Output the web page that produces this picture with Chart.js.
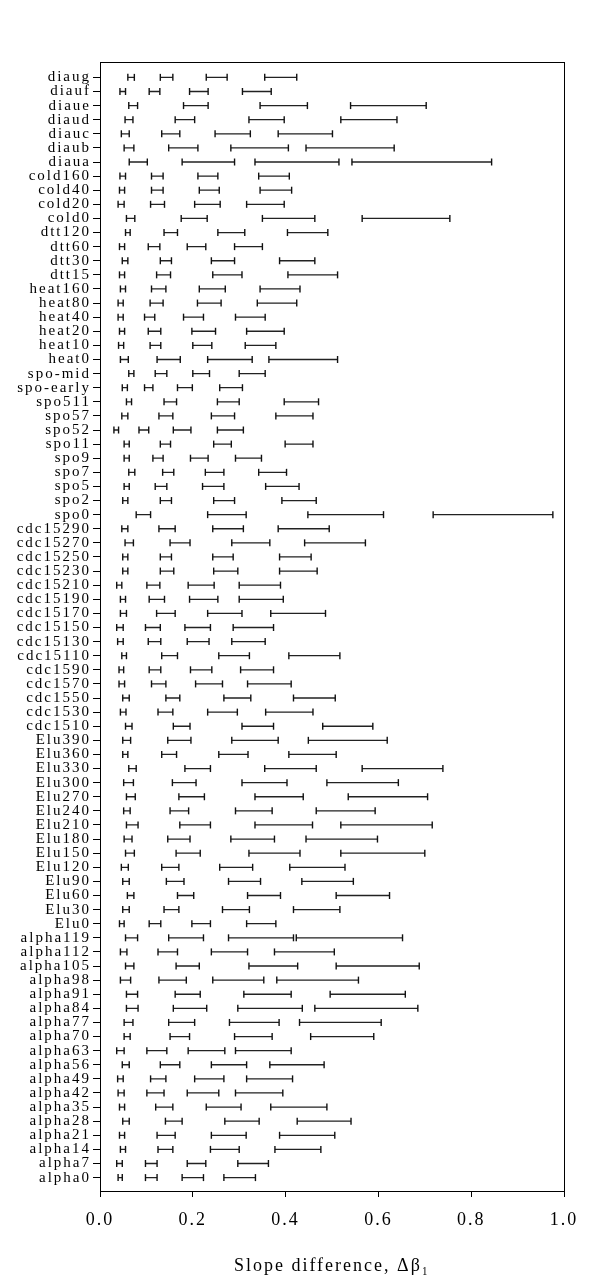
<!DOCTYPE html>
<html>
<head>
<meta charset="utf-8">
<script src="https://cdn.jsdelivr.net/npm/chart.js@4"></script>
<style>
  html, body { margin: 0; padding: 0; background: #fff; }
  canvas { display: block; }
</style>
</head>
<body>
<canvas id="slope-chart" width="600" height="1286"></canvas>
<script>
const labels = [
  "diaug", "diauf", "diaue", "diaud", "diauc", "diaub", "diaua",
  "cold160", "cold40", "cold20", "cold0",
  "dtt120", "dtt60", "dtt30", "dtt15",
  "heat160", "heat80", "heat40", "heat20", "heat10", "heat0",
  "spo-mid", "spo-early", "spo511", "spo57", "spo52", "spo11", "spo9", "spo7", "spo5", "spo2", "spo0",
  "cdc15290", "cdc15270", "cdc15250", "cdc15230", "cdc15210", "cdc15190", "cdc15170", "cdc15150",
  "cdc15130", "cdc15110", "cdc1590", "cdc1570", "cdc1550", "cdc1530", "cdc1510",
  "Elu390", "Elu360", "Elu330", "Elu300", "Elu270", "Elu240", "Elu210", "Elu180", "Elu150",
  "Elu120", "Elu90", "Elu60", "Elu30", "Elu0",
  "alpha119", "alpha112", "alpha105", "alpha98", "alpha91", "alpha84", "alpha77", "alpha70", "alpha63",
  "alpha56", "alpha49", "alpha42", "alpha35", "alpha28", "alpha21", "alpha14", "alpha7", "alpha0",
];

// [low, high] per row, same order as labels
const band1 = [
  [0.060, 0.074], [0.043, 0.055], [0.062, 0.081], [0.054, 0.071], [0.046, 0.063], [0.052, 0.073], [0.063, 0.102],
  [0.043, 0.055], [0.042, 0.053], [0.039, 0.052], [0.057, 0.075],
  [0.055, 0.065], [0.042, 0.053], [0.048, 0.060], [0.042, 0.053],
  [0.044, 0.055], [0.039, 0.050], [0.039, 0.050], [0.042, 0.053], [0.040, 0.051], [0.044, 0.061],
  [0.062, 0.073], [0.048, 0.059], [0.057, 0.068], [0.047, 0.060], [0.030, 0.040], [0.052, 0.063],
  [0.052, 0.063], [0.062, 0.075], [0.052, 0.063], [0.049, 0.060], [0.078, 0.109],
  [0.047, 0.060], [0.054, 0.072], [0.049, 0.060], [0.049, 0.060], [0.036, 0.047], [0.044, 0.055],
  [0.044, 0.057], [0.036, 0.050], [0.038, 0.050], [0.047, 0.057], [0.041, 0.051], [0.041, 0.053],
  [0.049, 0.063], [0.044, 0.056], [0.055, 0.069],
  [0.049, 0.066], [0.049, 0.060], [0.062, 0.078], [0.051, 0.072], [0.057, 0.076], [0.051, 0.065],
  [0.057, 0.082], [0.052, 0.069], [0.055, 0.074], [0.046, 0.061], [0.049, 0.063], [0.059, 0.073],
  [0.049, 0.063], [0.042, 0.052],
  [0.055, 0.081], [0.044, 0.058], [0.055, 0.073], [0.044, 0.066], [0.057, 0.081], [0.057, 0.082],
  [0.052, 0.071], [0.052, 0.065], [0.036, 0.052], [0.048, 0.063], [0.038, 0.050], [0.039, 0.052],
  [0.042, 0.053], [0.049, 0.063], [0.042, 0.053], [0.044, 0.055], [0.036, 0.048], [0.039, 0.048],
];

const band2 = [
  [0.130, 0.157], [0.106, 0.129], [0.180, 0.233], [0.162, 0.204], [0.133, 0.172], [0.148, 0.211], [0.177, 0.290],
  [0.111, 0.136], [0.111, 0.136], [0.109, 0.139], [0.175, 0.231],
  [0.138, 0.167], [0.104, 0.129], [0.130, 0.154], [0.122, 0.152],
  [0.111, 0.142], [0.108, 0.136], [0.096, 0.118], [0.104, 0.131], [0.108, 0.131], [0.123, 0.173],
  [0.119, 0.144], [0.096, 0.114], [0.138, 0.165], [0.127, 0.157], [0.084, 0.105], [0.130, 0.152],
  [0.114, 0.136], [0.135, 0.159], [0.119, 0.144], [0.130, 0.154], [0.232, 0.315],
  [0.127, 0.162], [0.151, 0.194], [0.130, 0.154], [0.130, 0.159], [0.101, 0.129], [0.106, 0.139],
  [0.122, 0.162], [0.098, 0.130], [0.104, 0.131], [0.133, 0.167], [0.106, 0.131], [0.111, 0.142],
  [0.142, 0.172], [0.125, 0.157], [0.158, 0.194],
  [0.146, 0.196], [0.133, 0.165], [0.183, 0.238], [0.156, 0.207], [0.170, 0.225], [0.151, 0.191],
  [0.172, 0.238], [0.146, 0.194], [0.164, 0.216], [0.133, 0.170], [0.143, 0.181], [0.167, 0.202],
  [0.138, 0.170], [0.106, 0.131],
  [0.148, 0.223], [0.125, 0.167], [0.164, 0.214], [0.127, 0.186], [0.162, 0.216], [0.158, 0.230],
  [0.148, 0.204], [0.151, 0.193], [0.101, 0.144], [0.130, 0.172], [0.109, 0.142], [0.101, 0.138],
  [0.120, 0.157], [0.141, 0.177], [0.123, 0.162], [0.125, 0.157], [0.098, 0.123], [0.098, 0.123],
];

const band3 = [
  [0.229, 0.274], [0.193, 0.233], [0.345, 0.447], [0.321, 0.397], [0.248, 0.324], [0.282, 0.406], [0.334, 0.515],
  [0.211, 0.254], [0.214, 0.257], [0.204, 0.259], [0.350, 0.463],
  [0.254, 0.312], [0.188, 0.228], [0.240, 0.290], [0.243, 0.306],
  [0.214, 0.270], [0.210, 0.261], [0.180, 0.223], [0.198, 0.249], [0.200, 0.241], [0.232, 0.328],
  [0.200, 0.236], [0.167, 0.199], [0.253, 0.300], [0.240, 0.290], [0.158, 0.196], [0.245, 0.283],
  [0.195, 0.233], [0.227, 0.267], [0.221, 0.267], [0.245, 0.290], [0.448, 0.611],
  [0.243, 0.309], [0.284, 0.366], [0.243, 0.287], [0.245, 0.297], [0.190, 0.246], [0.193, 0.254],
  [0.232, 0.306], [0.183, 0.238], [0.188, 0.235], [0.256, 0.322], [0.195, 0.241], [0.206, 0.264],
  [0.267, 0.325], [0.232, 0.296], [0.306, 0.374],
  [0.284, 0.384], [0.256, 0.319], [0.355, 0.466], [0.306, 0.403], [0.334, 0.438], [0.292, 0.371],
  [0.334, 0.458], [0.282, 0.376], [0.321, 0.431], [0.258, 0.329], [0.277, 0.346], [0.318, 0.389],
  [0.264, 0.322], [0.198, 0.238],
  [0.277, 0.417], [0.240, 0.318], [0.321, 0.426], [0.243, 0.353], [0.310, 0.412], [0.297, 0.436],
  [0.279, 0.386], [0.290, 0.371], [0.190, 0.269], [0.240, 0.316], [0.204, 0.267], [0.188, 0.256],
  [0.229, 0.304], [0.269, 0.343], [0.240, 0.315], [0.238, 0.300], [0.188, 0.228], [0.177, 0.223],
];

const band4 = [
  [0.355, 0.424], [0.307, 0.369], [0.540, 0.703], [0.519, 0.640], [0.384, 0.501], [0.444, 0.634], [0.543, 0.844],
  [0.342, 0.408], [0.345, 0.413], [0.316, 0.397], [0.565, 0.754],
  [0.404, 0.491], [0.290, 0.350], [0.387, 0.463], [0.405, 0.512],
  [0.345, 0.431], [0.339, 0.424], [0.292, 0.356], [0.316, 0.397], [0.313, 0.379], [0.364, 0.512],
  [0.300, 0.356], [0.258, 0.307], [0.397, 0.471], [0.379, 0.459], [0.253, 0.309], [0.399, 0.459],
  [0.292, 0.348], [0.342, 0.402], [0.357, 0.429], [0.392, 0.466], [0.718, 0.976],
  [0.384, 0.494], [0.441, 0.572], [0.387, 0.455], [0.387, 0.468], [0.300, 0.389], [0.300, 0.395],
  [0.368, 0.486], [0.287, 0.374], [0.284, 0.356], [0.407, 0.517], [0.303, 0.374], [0.318, 0.412],
  [0.417, 0.507], [0.357, 0.459], [0.480, 0.588],
  [0.449, 0.619], [0.407, 0.509], [0.565, 0.739], [0.489, 0.643], [0.535, 0.706], [0.466, 0.593],
  [0.519, 0.716], [0.444, 0.598], [0.519, 0.700], [0.409, 0.528], [0.435, 0.546], [0.509, 0.624],
  [0.417, 0.517], [0.316, 0.379],
  [0.423, 0.652], [0.376, 0.505], [0.509, 0.688], [0.381, 0.557], [0.496, 0.658], [0.463, 0.685],
  [0.430, 0.606], [0.454, 0.590], [0.292, 0.412], [0.366, 0.483], [0.316, 0.415], [0.292, 0.394],
  [0.368, 0.489], [0.425, 0.541], [0.387, 0.506], [0.377, 0.476], [0.297, 0.363], [0.267, 0.335],
];

const xTicks = [0, 0.2, 0.4, 0.6, 0.8, 1.0];

// each interval is two points joined by a line, then a gap
const toPoints = (band) =>
  band.flatMap(([lo, hi], i) => [
    { x: lo, y: i },
    { x: hi, y: i },
    { x: null, y: null },
  ]);

const serif = "'Liberation Serif', 'Times New Roman', serif";

const framePlugin = {
  id: "frame",
  beforeDraw(chart) {
    chart.ctx.letterSpacing = "2px";
  },
  beforeDatasetsDraw(chart) {
    chart.ctx.letterSpacing = "1.5px";
  },
  afterDraw(chart) {
    const { ctx, chartArea } = chart;
    ctx.save();
    ctx.strokeStyle = "#000";
    ctx.lineWidth = 1;
    ctx.strokeRect(
      Math.round(chartArea.left) + 0.5,
      Math.round(chartArea.top) + 0.5,
      Math.round(chartArea.right - chartArea.left),
      Math.round(chartArea.bottom - chartArea.top)
    );
    ctx.restore();
  },
};

new Chart(document.getElementById("slope-chart").getContext("2d"), {
  type: "scatter",
  data: {
    datasets: [band1, band2, band3, band4].map((band) => ({
      data: toPoints(band),
      showLine: true,
      spanGaps: false,
      borderColor: "#222",
      borderWidth: 1.3,
      pointStyle: "line",
      pointRotation: 90,
      pointRadius: 3.5,
      pointBorderColor: "#111",
      pointBorderWidth: 1.4,
    })),
  },
  options: {
    responsive: false,
    animation: false,
    events: [],
    layout: {
      padding: { top: 62, right: 36, left: 0, bottom: 0 },
    },
    plugins: {
      legend: { display: false },
      tooltip: { enabled: false },
    },
    scales: {
      x: {
        type: "linear",
        min: 0,
        max: 1,
        z: 1,
        afterBuildTicks: (scale) => {
          scale.ticks = xTicks.map((value) => ({ value }));
        },
        afterFit: (scale) => {
          scale.height = 95;
        },
        grid: {
          drawOnChartArea: false,
          drawTicks: true,
          tickLength: 6,
          color: "#000",
        },
        border: { display: true, color: "#000", width: 1 },
        ticks: {
          color: "#000",
          padding: 12,
          font: { family: serif, size: 18 },
          callback: (value) => Number(value).toFixed(1),
        },
        title: {
          display: true,
          text: "Slope difference, Δβ₁",
          color: "#000",
          font: { family: serif, size: 18 },
          padding: { top: 4, bottom: 9 },
        },
      },
      y: {
        type: "linear",
        reverse: true,
        min: -1.09,
        max: 78.95,
        afterBuildTicks: (scale) => {
          scale.ticks = labels.map((_, i) => ({ value: i }));
        },
        afterFit: (scale) => {
          scale.width = 100;
        },
        grid: {
          drawOnChartArea: false,
          drawTicks: true,
          tickLength: 7,
          color: "#000",
        },
        border: { display: true, color: "#000", width: 1 },
        ticks: {
          autoSkip: false,
          color: "#000",
          padding: 2,
          font: { family: serif, size: 15 },
          callback: (value) => labels[value],
        },
      },
    },
  },
  plugins: [framePlugin],
});
</script>
</body>
</html>
